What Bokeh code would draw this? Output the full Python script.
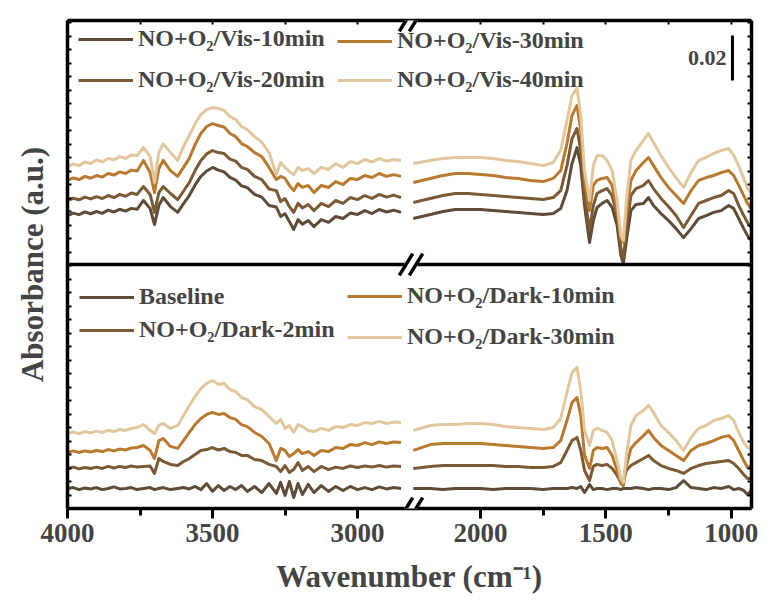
from bokeh.plotting import figure
from bokeh.models import (Range1d, LinearAxis, FixedTicker,
                          Legend, LegendItem, Label, Arrow, Span)
from bokeh.embed import file_html
from bokeh.resources import INLINE

# ---------------- data (absorbance in mA, i.e. 1e-3 a.u.; curves offset as in the figure) ----
WL = [4000, 3980, 3960, 3940, 3920, 3900, 3880, 3860, 3840, 3820, 3800, 3780, 3760,
      3738, 3715, 3700, 3685, 3670, 3645, 3620,
      3600, 3580, 3560, 3540, 3520, 3500, 3480, 3460, 3440, 3420, 3400, 3380,
      3355, 3330, 3305, 3280,
      3265, 3250, 3235, 3220, 3205, 3190,
      3170, 3150,
      3125, 3100, 3075, 3050, 3025, 3000, 2975, 2950, 2925, 2900, 2875, 2850]
WR = [2268, 2200, 2150, 2100, 2050, 2000, 1950, 1900, 1850, 1800, 1750, 1710, 1680, 1655,
      1635, 1615, 1600, 1585, 1565, 1550, 1535, 1515, 1495, 1475, 1455, 1440, 1430, 1418,
      1400, 1380, 1350, 1330, 1310, 1280, 1250, 1220, 1190, 1160, 1130, 1100, 1070, 1040,
      1010, 990, 970, 950, 935, 920]

# top panel: NO+O2 / visible light
VIS10_L = [130.2, 131.3, 130.6, 131.8, 131.0, 132.0, 131.2, 132.6, 131.8, 133.0, 132.2, 133.4, 133.0,
           136.9, 133.3, 126.2, 134.7, 138.2, 134.2, 131.6,
           135.5, 139.1, 143.8, 147.6, 150.0, 151.6, 150.4, 149.6, 147.2, 146.0, 143.4, 142.6,
           139.6, 138.4, 134.7, 134.0,
           129.8, 131.0, 127.6, 124.0, 128.4, 126.4,
           128.0, 125.3,
           128.4, 127.2, 129.8, 128.9, 131.3, 130.7, 132.4, 131.1, 132.9, 131.8, 132.6, 131.6]
VIS20_L = [136.9, 137.9, 137.2, 138.4, 137.6, 138.6, 137.8, 139.1, 138.2, 139.6, 138.8, 140.2, 139.6,
           143.1, 139.6, 131.6, 140.4, 143.1, 140.0, 137.3,
           141.0, 144.9, 150.2, 154.7, 157.6, 159.1, 158.2, 157.8, 155.3, 154.4, 151.6, 150.7,
           147.6, 146.2, 142.0, 141.3,
           136.4, 137.8, 134.2, 131.6, 135.6, 133.6,
           135.1, 132.4,
           135.6, 134.2, 136.9, 135.6, 138.2, 137.3, 139.1, 137.8, 139.6, 138.4, 139.3, 138.2]
VIS30_L = [145.8, 146.9, 146.2, 147.6, 146.8, 148.0, 147.3, 148.9, 148.2, 149.6, 148.9, 150.4, 150.0,
           154.7, 149.3, 140.4, 151.1, 154.7, 150.2, 147.6,
           151.6, 155.6, 161.8, 166.7, 169.8, 171.1, 170.2, 169.6, 166.7, 165.3, 162.2, 160.9,
           158.2, 156.4, 151.6, 146.2,
           147.6, 146.7, 143.6, 141.3, 144.4, 142.7,
           143.6, 140.4,
           143.6, 142.7, 145.3, 144.0, 146.7, 146.2, 148.0, 147.1, 148.9, 147.6, 148.4, 147.6]
VIS40_L = [152.0, 153.1, 152.4, 154.0, 153.3, 154.9, 154.0, 155.6, 154.9, 156.4, 155.6, 157.1, 156.9,
           160.4, 156.4, 144.9, 158.2, 162.2, 158.2, 154.7,
           160.9, 165.8, 171.1, 175.1, 177.3, 178.2, 177.8, 176.9, 174.2, 172.9, 169.8, 168.4,
           165.3, 162.7, 158.2, 148.4,
           153.8, 151.6, 149.8, 148.4, 151.6, 150.2,
           151.1, 148.9,
           151.6, 150.7, 153.3, 151.6, 154.2, 153.3, 155.1, 154.0, 155.6, 154.4, 155.1, 154.7]
VIS10_R = [128.9, 130.7, 132.0, 132.9, 132.9, 132.9, 132.4, 132.0, 131.6, 131.1, 130.7, 131.1,
           133.3, 141.3, 153.3, 160.4, 152.4, 134.7, 118.2, 128.0, 133.8, 135.6, 136.9, 133.8,
           125.8, 112.4, 108.9, 119.1, 132.4, 135.1, 135.6, 138.2, 134.7, 131.1, 128.0, 124.4,
           120.4, 124.4, 128.9, 130.2, 131.6, 132.4, 134.7, 133.3, 128.9, 124.4, 121.3, 119.1]
VIS20_R = [136.0, 137.8, 139.1, 140.0, 140.0, 139.6, 139.1, 138.7, 138.2, 137.8, 137.3, 138.2,
           141.3, 152.4, 164.4, 168.9, 159.1, 139.1, 123.6, 134.7, 140.0, 141.3, 142.2, 139.1,
           130.2, 115.6, 111.6, 123.6, 139.1, 142.2, 143.6, 145.8, 142.2, 137.8, 134.2, 130.2,
           124.9, 130.2, 135.6, 136.9, 138.2, 139.1, 141.3, 140.0, 134.7, 130.2, 127.1, 124.9]
VIS30_R = [144.9, 146.7, 148.0, 148.9, 148.9, 148.4, 148.0, 147.1, 146.7, 145.8, 145.3, 146.7,
           150.2, 162.2, 174.7, 179.1, 168.0, 145.8, 132.4, 143.6, 145.8, 146.7, 147.1, 143.6,
           132.4, 120.0, 118.2, 130.2, 145.8, 150.2, 153.8, 156.0, 152.4, 147.1, 142.7, 139.1,
           135.6, 141.3, 145.8, 147.1, 148.0, 149.3, 150.2, 148.0, 143.6, 139.1, 135.6, 133.3]
VIS40_R = [153.3, 154.7, 155.6, 156.0, 156.0, 156.0, 155.6, 154.7, 154.2, 153.3, 152.4, 153.8,
           159.1, 172.4, 183.6, 186.7, 174.7, 150.2, 136.9, 152.4, 156.9, 156.9, 154.7, 150.2,
           136.9, 121.3, 119.1, 136.9, 154.7, 159.1, 163.6, 166.7, 162.7, 156.9, 151.6, 147.1,
           142.7, 149.3, 154.7, 156.0, 157.8, 159.1, 160.0, 156.9, 152.4, 146.7, 142.2, 140.4]

# bottom panel: baseline and NO+O2 in the dark
BASE_L = [8.9, 9.3, 8.4, 9.1, 8.7, 9.3, 8.4, 8.9, 9.6, 8.7, 8.9, 9.3, 8.4,
          8.9, 9.3, 8.4, 8.9, 9.3, 8.4, 8.9,
          9.3, 8.7, 9.8, 8.4, 11.1, 7.6, 10.2, 8.0, 9.8, 8.4, 10.2, 7.6,
          9.8, 7.1, 11.1, 6.7,
          11.6, 5.8, 12.0, 4.9, 11.1, 6.2,
          10.7, 7.1,
          10.2, 7.6, 9.8, 8.0, 9.8, 8.4, 9.3, 8.4, 9.6, 8.7, 9.3, 8.9]
DARK2_L = [17.8, 18.4, 17.6, 18.2, 17.8, 18.4, 17.8, 18.7, 18.0, 18.7, 18.2, 18.9, 18.4,
           18.7, 18.9, 15.6, 22.2, 20.9, 19.6, 19.1,
           20.9, 22.2, 24.0, 25.8, 26.2, 27.1, 26.0, 26.7, 25.3, 24.9, 23.6, 23.6,
           21.8, 21.3, 19.6, 18.7,
           16.4, 19.1, 16.0, 17.3, 20.4, 16.9,
           18.7, 16.4,
           18.7, 17.3, 18.4, 17.8, 18.9, 18.2, 18.9, 18.4, 19.1, 18.4, 18.9, 18.7]
DARK10_L = [24.9, 25.6, 24.9, 25.6, 25.1, 25.8, 25.3, 26.2, 25.6, 26.4, 26.0, 26.9, 27.1,
            28.0, 25.8, 22.2, 30.2, 31.1, 27.6, 26.7,
            30.2, 33.8, 37.3, 40.0, 41.8, 42.7, 41.8, 42.2, 40.4, 39.6, 37.3, 36.4,
            33.8, 32.0, 28.9, 21.3,
            26.7, 25.8, 23.1, 24.4, 26.2, 24.4,
            25.3, 23.6,
            25.8, 25.3, 27.1, 26.7, 28.4, 28.0, 29.3, 28.4, 29.6, 28.9, 29.6, 29.3]
DARK30_L = [33.3, 34.0, 33.3, 34.2, 33.6, 34.4, 33.8, 34.7, 34.2, 35.1, 34.7, 35.6, 36.0,
            37.3, 34.7, 33.3, 36.9, 37.8, 35.6, 36.9,
            41.3, 45.8, 49.8, 53.3, 55.6, 56.9, 55.1, 55.6, 52.9, 52.0, 49.3, 48.4,
            45.3, 44.0, 40.9, 37.8,
            39.6, 35.6, 36.9, 33.8, 37.3, 36.4,
            34.7, 34.2,
            35.6, 34.7, 36.4, 36.0, 37.3, 36.9, 38.2, 37.8, 38.7, 37.8, 38.4, 38.2]
BASE_R = [8.9, 8.9, 8.4, 8.9, 8.9, 8.9, 8.4, 8.9, 8.9, 8.9, 8.4, 8.9, 8.9, 8.9, 9.3, 8.9, 9.8,
          7.1, 10.7, 8.4, 8.9, 8.9, 8.4, 8.9, 8.9, 8.4, 8.9, 8.9, 8.9, 9.3, 8.9, 8.4, 8.9, 8.9,
          8.4, 9.3, 12.4, 9.3, 8.9, 8.4, 9.3, 8.9, 9.8, 8.4, 8.9, 8.0, 6.2, 8.0]
DARK2_R = [17.8, 18.7, 19.1, 19.1, 19.1, 19.1, 19.1, 18.7, 18.7, 18.2, 18.2, 18.7, 20.4, 25.8,
           30.2, 31.6, 25.8, 16.9, 12.4, 18.7, 19.6, 19.1, 19.6, 17.8, 14.7, 11.6, 12.4, 16.9,
           19.1, 20.4, 22.2, 23.6, 21.3, 19.1, 17.8, 16.9, 15.6, 17.8, 19.1, 20.0, 20.4, 20.9,
           21.3, 20.0, 17.8, 15.1, 13.3, 13.3]
DARK10_R = [25.8, 28.4, 28.9, 28.9, 28.9, 28.9, 28.4, 28.0, 27.6, 27.1, 26.7, 27.1, 30.2, 39.1,
            47.1, 49.3, 41.3, 23.6, 17.8, 25.8, 27.1, 26.7, 27.1, 23.6, 16.9, 11.1, 10.2, 19.1,
            26.7, 29.3, 32.4, 34.7, 31.6, 28.0, 25.8, 23.6, 21.3, 25.8, 28.0, 28.9, 30.2, 31.6,
            32.4, 30.2, 25.8, 21.3, 18.2, 19.1]
DARK30_R = [34.7, 36.9, 37.3, 37.3, 37.8, 37.8, 37.3, 36.4, 36.0, 35.6, 35.1, 36.0, 40.0, 51.6,
            60.4, 62.7, 52.4, 34.7, 28.0, 34.7, 35.6, 34.7, 33.8, 30.2, 21.3, 13.3, 11.6, 23.6,
            36.9, 41.3, 43.6, 45.8, 42.7, 36.9, 33.8, 30.2, 25.8, 31.6, 35.6, 36.9, 39.1, 40.0,
            41.3, 39.1, 33.8, 29.3, 27.1, 26.7]

TOP_LABELS = ["NO+O\u2082/Vis-10min", "NO+O\u2082/Vis-20min",
              "NO+O\u2082/Vis-30min", "NO+O\u2082/Vis-40min"]
BOT_LABELS = ["Baseline", "NO+O\u2082/Dark-2min",
              "NO+O\u2082/Dark-10min", "NO+O\u2082/Dark-30min"]
TICK_LO = [4000, 3500, 3000]
TICK_HI = [2000, 1500, 1000]
MINOR_LO = [3750, 3250]
MINOR_HI = [1750, 1250]
SCALE_BAR = 20.0   # mA  (= 0.02 absorbance)

COLORS = ["#5e4b38", "#7b5a34", "#b9792f", "#e2c79d"]
FONT = "'Times New Roman', 'Liberation Serif', Tinos, serif"

for arr in (VIS10_L, VIS20_L, VIS30_L, VIS40_L, BASE_L, DARK2_L, DARK10_L, DARK30_L):
    assert len(arr) == len(WL), len(arr)
for arr in (VIS10_R, VIS20_R, VIS30_R, VIS40_R, BASE_R, DARK2_R, DARK10_R, DARK30_R):
    assert len(arr) == len(WR), len(arr)

# ---------------- layout constants ----------------
W, H = 766, 606
FL, FR, FT, FB = 67, 15, 20, 98
FW, FH = W - FL - FR, H - FT - FB
LO0, LO1 = 4000.0, 1641.4       # left (4000-2850 cm-1) segment scale
HI0, HI1 = 3647.4, 919.0        # right (2270-920 cm-1) segment scale
YMAX = 216.9
DIVIDER = 108.4
YTICK_STEP = 6

p = figure(width=W, height=H, output_backend="svg", toolbar_location=None,
           x_range=Range1d(LO0, LO1), y_range=Range1d(0, YMAX),
           x_axis_location=None, y_axis_location=None,
           min_border_left=FL, min_border_right=FR, min_border_top=FT, min_border_bottom=FB)
p.extra_x_ranges = {"hi": Range1d(HI0, HI1)}
p.outline_line_color = None
p.background_fill_color = "white"
p.border_fill_color = "white"
p.xgrid.visible = False
p.ygrid.visible = False
p.grid.visible = False


def hi_to_lo(w):
    return round(LO0 + (w - HI0) * (LO1 - LO0) / (HI1 - HI0), 2)


def xd(px):
    return LO0 + (px - FL) * (LO1 - LO0) / FW


def yd(py):
    return (FT + FH - py) * YMAX / FH


# ---------------- curves ----------------
def draw(xl, yl, xr, yr, color):
    rl = p.line(xl, yl, line_color=color, line_width=3, line_join="round")
    p.line(xr, yr, line_color=color, line_width=3, line_join="round", x_range_name="hi")
    return rl


top_sets = [(VIS10_L, VIS10_R), (VIS20_L, VIS20_R), (VIS30_L, VIS30_R), (VIS40_L, VIS40_R)]
bot_sets = [(BASE_L, BASE_R), (DARK2_L, DARK2_R), (DARK10_L, DARK10_R), (DARK30_L, DARK30_R)]
top_r = [draw(WL, a, WR, b, c) for (a, b), c in zip(top_sets, COLORS)]
bot_r = [draw(WL, a, WR, b, c) for (a, b), c in zip(bot_sets, COLORS)]

# ---------------- axes ----------------
ticks = TICK_LO + [hi_to_lo(w) for w in TICK_HI]
minor = MINOR_LO + [hi_to_lo(w) for w in MINOR_HI]
overrides = {t: str(l) for t, l in zip(ticks, TICK_LO + TICK_HI)}
ytick_pos = list(range(0, int(YMAX) + 1, YTICK_STEP))

xb = LinearAxis(ticker=FixedTicker(ticks=ticks, minor_ticks=minor),
                major_label_overrides=overrides, axis_label="Wavenumber (cm\u207b\u00b9)")
xb.major_tick_out, xb.major_tick_in = 10, 0
xb.minor_tick_out, xb.minor_tick_in = 7, 0
xb.major_label_standoff = 5
xb.major_label_text_font = FONT
xb.major_label_text_font_style = "bold"
xb.major_label_text_font_size = "27px"
xb.axis_label_text_font = FONT
xb.axis_label_text_font_style = "bold"
xb.axis_label_text_font_size = "31px"
xb.axis_label_standoff = 14
p.add_layout(xb, "below")

# top edge: only (label-free) minor ticks
xt = LinearAxis(ticker=FixedTicker(ticks=[], minor_ticks=ticks + minor))
xt.minor_tick_out, xt.minor_tick_in = 0, 4
p.add_layout(xt, "above")

yl = LinearAxis(ticker=FixedTicker(ticks=[], minor_ticks=ytick_pos),
                axis_label="Absorbance (a.u.)")
yl.minor_tick_out, yl.minor_tick_in = 0, 4
yl.axis_label_text_font = FONT
yl.axis_label_text_font_style = "bold"
yl.axis_label_text_font_size = "31px"
yl.axis_label_standoff = 18
p.add_layout(yl, "left")

yr = LinearAxis(ticker=FixedTicker(ticks=[], minor_ticks=ytick_pos))
yr.minor_tick_out, yr.minor_tick_in = 0, 4
p.add_layout(yr, "right")

for ax in (xb, xt, yl, yr):
    ax.axis_line_width = 3.5
    ax.axis_line_color = "black"
    ax.major_tick_line_width = 3
    ax.minor_tick_line_width = 3 if ax is xb else 2

p.add_layout(Span(location=DIVIDER, dimension="width", line_width=3.5, line_color="black"))

# ---------------- axis break marks ----------------
for py in (FT, FT + FH / 2, FT + FH):
    p.add_layout(Arrow(end=None, x_start=xd(404), x_end=xd(417), y_start=yd(py), y_end=yd(py),
                       line_color="white", line_width=8))
    for cx in (405.5, 415.5):
        p.add_layout(Arrow(end=None, x_start=xd(cx - 6.7), y_start=yd(py + 10.8),
                           x_end=xd(cx + 6.7), y_end=yd(py - 10.8),
                           line_color="black", line_width=3.5))

# ---------------- scale bar ----------------
p.segment(x0=[995], y0=[190.2], x1=[995], y1=[190.2 + SCALE_BAR], x_range_name="hi",
          line_color="black", line_width=3)
p.add_layout(Label(x=1019, y=190.2 + SCALE_BAR / 2, x_range_name="hi", text="0.02",
                   text_align="right", text_baseline="middle", text_font=FONT,
                   text_font_style="bold", text_font_size="22px"))


# ---------------- legends ----------------
def legend(labels, rends, loc, spacing):
    lg = Legend(items=[LegendItem(label=l, renderers=[r]) for l, r in zip(labels, rends)],
                location=loc, spacing=spacing, padding=0, margin=0,
                glyph_width=55, glyph_height=24, label_height=24, label_standoff=5,
                border_line_color=None, background_fill_alpha=0,
                label_text_font=FONT, label_text_font_style="bold", label_text_font_size="24px")
    p.add_layout(lg)


legend(TOP_LABELS[:2], top_r[:2], (11, 415), 14)
legend(TOP_LABELS[2:], top_r[2:], (270, 415), 12)
legend(BOT_LABELS[:2], bot_r[:2], (12, 165), 6)
legend(BOT_LABELS[2:], bot_r[2:], (280, 158), 14)

open("out.html", "w").write(file_html(p, INLINE))
